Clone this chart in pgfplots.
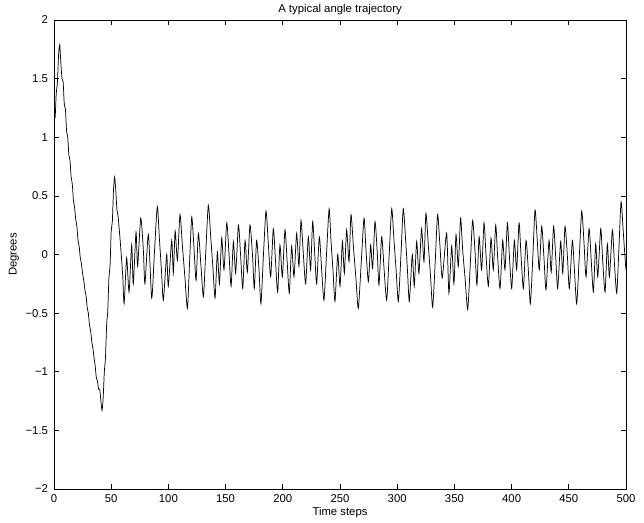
\documentclass[border=0pt]{standalone}
\usepackage{fontspec}
\setmainfont{Liberation Sans}
\usepackage{pgfplots}
\pgfplotsset{compat=1.18}
\pgfplotstableread{
x y
0 1.16
1 1.17
2 1.38
3 1.47
4 1.70
5 1.79
6 1.63
7 1.50
8 1.47
9 1.28
10 1.24
11 1.05
12 1.00
13 0.85
14 0.80
15 0.66
16 0.60
17 0.46
18 0.40
19 0.30
20 0.24
21 0.12
22 0.07
23 -0.03
24 -0.08
25 -0.16
26 -0.22
27 -0.30
28 -0.35
29 -0.45
30 -0.50
31 -0.60
32 -0.65
33 -0.74
34 -0.80
35 -0.88
36 -0.95
37 -1.05
38 -1.08
39 -1.15
40 -1.15
41 -1.25
42 -1.33
43 -1.22
44 -1.00
45 -0.88
46 -0.60
47 -0.48
48 -0.20
49 -0.10
50 0.20
51 0.28
52 0.55
53 0.66
54 0.55
55 0.38
56 0.33
58 0.10
60 -0.17
61.3 -0.42
63.5 -0.03
65.6 -0.32
67.9 0.08
69.3 -0.25
71.7 0.19
73.1 -0.10
75.8 0.31
78.1 0.04
79.5 -0.25
82.5 0.17
85.4 -0.37
87.8 0.02
90.3 0.41
92.1 0.14
93.9 -0.13
95.6 -0.39
98.5 0.0
99.9 -0.27
102.9 0.12
104.3 -0.16
105.9 0.20
107.9 -0.05
110.1 0.34
112.2 0.08
114.4 -0.19
116.6 -0.46
118.5 -0.07
120.4 0.32
122.4 0.05
124.2 -0.22
126.2 0.18
128.4 -0.09
130.6 -0.36
132.7 0.03
134.9 0.42
137.0 0.15
138.9 -0.11
140.8 -0.37
142.8 0.02
144.6 -0.25
146.6 0.14
148.6 -0.13
151.0 0.27
153.0 0.0
154.8 -0.27
156.8 0.11
158.8 -0.16
161.2 0.25
163.2 -0.02
165.0 -0.29
167.0 0.12
169.0 -0.15
171.3 0.25
173.6 -0.02
175.1 -0.29
177.1 0.12
179.2 -0.13
180.9 -0.42
183.0 -0.02
185.3 0.37
187.3 0.10
189.4 -0.19
191.7 0.22
193.6 -0.05
195.5 -0.32
197.5 0.08
199.6 -0.19
201.9 0.21
203.8 -0.06
205.7 -0.33
207.7 0.07
209.8 -0.19
212.1 0.18
214.1 -0.10
215.9 0.29
217.9 0.01
220.0 -0.25
222.3 0.15
224.3 -0.13
226.1 0.28
227.9 0.01
229.6 -0.25
231.9 0.15
233.9 -0.12
236.0 -0.39
238.2 0.0
240.5 0.39
242.1 0.12
243.9 -0.14
245.6 -0.40
248.0 0.0
250.0 -0.27
252.1 0.11
253.8 -0.16
255.8 0.21
257.9 -0.06
259.6 0.34
261.7 0.07
263.9 -0.20
266.0 -0.46
268.5 -0.08
271.0 0.31
272.7 0.04
274.8 -0.23
276.8 0.08
278.5 -0.12
280.6 0.28
282.6 0.01
284.1 -0.26
286.4 0.15
288.5 -0.12
290.8 -0.39
293.0 0.0
295.2 0.39
297.2 0.12
299.1 -0.14
301.0 -0.40
303.2 -0.02
305.3 0.39
307.4 0.12
309.0 -0.14
310.6 -0.40
313.2 0.0
314.9 -0.27
317.0 0.11
319.0 -0.16
321.3 0.22
323.4 -0.06
325.1 0.35
327.2 0.08
329.1 -0.18
331.0 -0.45
333.2 -0.07
335.3 0.34
337.4 0.07
339.4 -0.20
343.2 0.18
345.2 -0.33
347.6 0.07
349.6 -0.25
351.4 0.17
353.4 -0.10
355.4 0.31
357.2 0.04
359.4 -0.21
361.6 -0.47
363.8 -0.10
365.9 0.29
368.0 0.03
369.7 -0.26
371.6 0.15
373.8 -0.13
375.9 0.27
377.6 0.0
379.7 -0.27
382.0 0.14
384.0 -0.13
386.1 0.25
387.8 -0.02
389.9 -0.29
392.2 0.12
394.2 -0.13
396.3 0.27
398.0 0.0
400.1 -0.29
402.4 0.12
404.4 -0.13
406.5 0.27
408.2 0.0
410.3 -0.29
412.6 0.12
414.6 -0.13
416.4 -0.42
418.5 -0.03
420.5 0.38
422.5 0.11
424.2 -0.13
426.3 0.24
428.3 -0.03
430.1 -0.30
432.7 0.12
434.6 -0.15
436.7 0.24
438.6 -0.03
440.3 -0.29
442.9 0.11
444.7 -0.16
446.7 0.24
448.8 -0.02
450.5 -0.29
453.1 0.12
454.9 -0.13
456.9 -0.42
459.1 -0.03
461.3 0.37
463.3 0.10
465.1 -0.19
467.7 0.22
469.6 -0.05
471.5 -0.32
473.5 0.09
475.3 -0.19
477.9 0.22
479.6 -0.05
481.7 -0.32
483.7 0.09
485.5 -0.19
488.1 0.21
489.8 -0.06
491.9 -0.33
493.8 0.05
495.7 0.45
497.7 0.18
499.7 -0.10
500 -0.12
}\angletraj
\begin{document}
\begin{tikzpicture}
\begin{axis}[
  scale only axis,
  width=429pt, height=351.75pt,
  xmin=0, xmax=500, ymin=-2, ymax=2,
  xtick={0,50,100,150,200,250,300,350,400,450,500},
  xticklabels={0,50,100,150,200,250,300,350,400,450,500},
  ytick={-2,-1.5,-1,-0.5,0,0.5,1,1.5,2},
  yticklabels={−2,−1.5,−1,−0.5,0,0.5,1,1.5,2},
  tick align=inside,
  major tick length=4pt,
  axis line style={black, line width=0.5pt},
  every tick/.style={black, line width=0.5pt},
  font=\fontsize{8.5}{10}\selectfont,
  every axis title shift=0pt,
  title={A typical angle trajectory},
  title style={at={(axis description cs:0.5,1.022)}, anchor=center, inner sep=0pt},
  xlabel={Time steps},
  xlabel style={at={(axis description cs:0.5,-0.0512)}, anchor=center, inner sep=0pt},
  ylabel={Degrees},
  ylabel style={at={(axis description cs:-0.07,0.5)}, anchor=center, inner sep=0pt},
  xticklabel style={yshift=-1pt},
  yticklabel style={xshift=-1pt},
  clip=true,
]
\addplot[black, line width=0.55pt, smooth, tension=0.4] table[x=x,y=y] {\angletraj};
\coordinate (SW) at (rel axis cs:0,0);
\coordinate (NE) at (rel axis cs:1,1);
\end{axis}
\pgfresetboundingbox
\path[use as bounding box] ([shift={(-40.5pt,-25.5pt)}]SW) rectangle ([shift={(13.5pt,15pt)}]NE);
\end{tikzpicture}
\end{document}
